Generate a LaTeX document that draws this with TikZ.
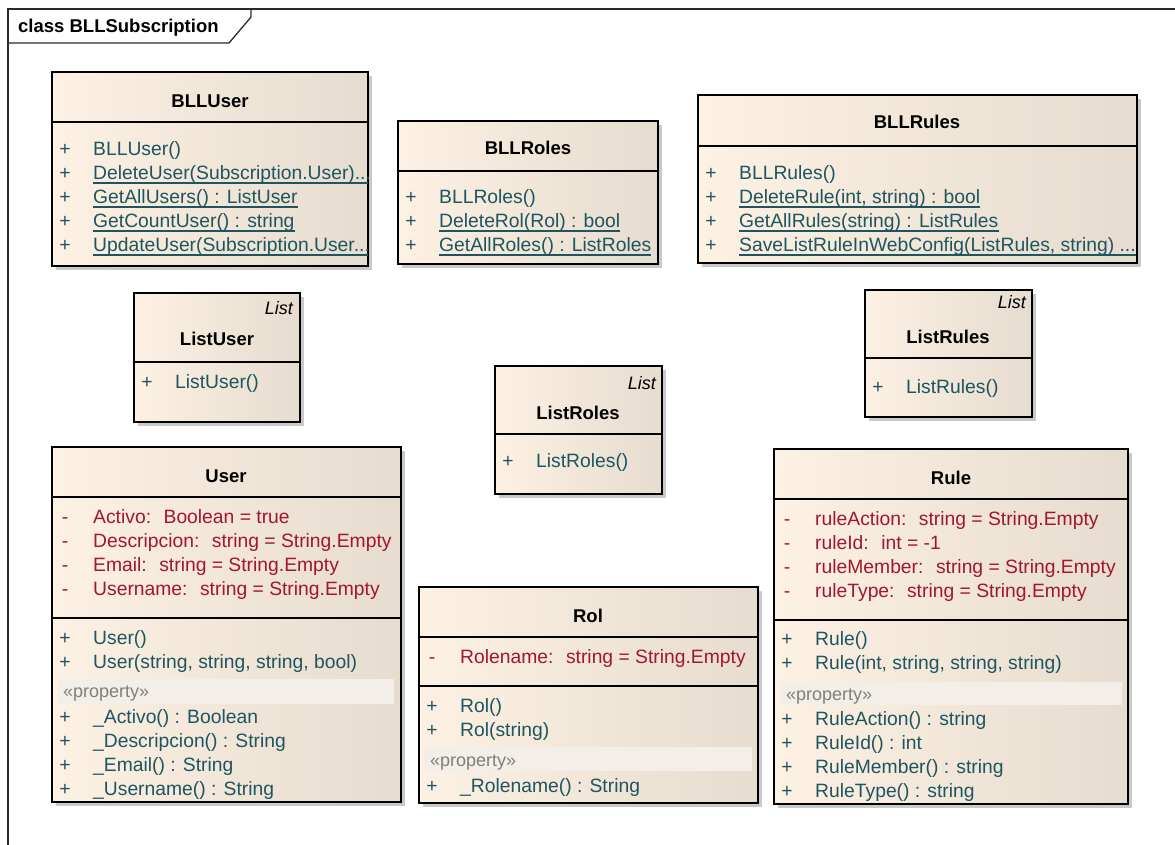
\documentclass[tikz,border=0pt]{standalone}
\usepackage{fontspec}
\setmainfont{Liberation Sans}
\usetikzlibrary{shadows}
\definecolor{opc}{HTML}{1E5560}
\definecolor{atc}{HTML}{A3162B}
\definecolor{bgl}{HTML}{FCF1E2}
\definecolor{bgr}{HTML}{E6DCCF}
\definecolor{propband}{HTML}{F3EEE8}
\definecolor{stereogray}{HTML}{7F7F7F}
\definecolor{framec}{HTML}{2A2A2A}

% class box: name, x1, y1, x2, y2 (pixel-like units, y downward)
\newcommand\clsbox[5]{%
  \node[cls, minimum width={(#4-#2)*1pt}, minimum height={(#5-#3)*1pt}]
    (#1) at ({(#2+#4)/2},{(#3+#5)/2}) {};}
% horizontal compartment divider of a box
\newcommand\divider[2]{\draw[div] (#1.west |- 0,#2) -- (#1.east |- 0,#2);}
% member row: name, box left, baseline, colour, visibility, text
\newcommand\mrow[6]{%
  \node[row, text=#4, anchor=base] (#1s) at ({#2+13},#3) {#5};
  \node[row, text=#4, anchor=base west] (#1) at ({#2+41},#3) {#6};}
% underlined (static) member row
\newcommand\urow[6]{%
  \mrow{#1}{#2}{#3}{#4}{#5}{#6}
  \draw[ulline] ([yshift=-4pt]#1.base west) -- ([yshift=-4pt]#1.base east);}

\begin{document}
\begin{tikzpicture}[x=1pt,y=-1pt,
  cls/.style={draw=black, line width=1.2pt, left color=bgl, right color=bgr,
    inner sep=0pt, drop shadow={shadow xshift=4pt, shadow yshift=-4pt,
    fill=black!35, opacity=0.6}},
  div/.style={draw=black, line width=1.2pt},
  row/.style={inner sep=0pt, font=\fontsize{19.3}{22}\selectfont},
  ttl/.style={inner sep=0pt, anchor=base, font=\bfseries\fontsize{18.5}{22}\selectfont},
  stereo/.style={inner sep=0pt, anchor=base east, font=\itshape\fontsize{18}{20}\selectfont},
  prop/.style={inner sep=0pt, anchor=base west, text=stereogray, font=\fontsize{18}{20}\selectfont},
  band/.style={fill=propband, draw=none},
  ulline/.style={draw=opc, line width=1.1pt},
  frame/.style={draw=framec, line width=1.3pt},
]
\useasboundingbox (0,0) rectangle (1175,844);
\fill[white] (0,0) rectangle (1175,844);

% package frame and its name tab
\draw[frame] (8,850) -- (8,9) -- (1180,9);
\draw[frame] (8,43) -- (229,43) -- (251,17) -- (251,9);
\node[inner sep=0pt, anchor=base west, font=\bfseries\fontsize{18.5}{22}\selectfont]
  (pkgname) at (18,32) {class BLLSubscription};

% ---------- BLLUser ----------
\clsbox{bllUser}{52}{72}{368}{266}
\node[ttl] (bllUserName) at (210,107) {BLLUser};
\divider{bllUser}{122}
\begin{scope}
\clip (52,72) rectangle (368,266);
\mrow{bu1}{52}{155}{opc}{+}{BLLUser()}
\urow{bu2}{52}{179}{opc}{+}{DeleteUser(Subscription.User)...}
\urow{bu3}{52}{203}{opc}{+}{GetAllUsers() : ListUser}
\urow{bu4}{52}{227}{opc}{+}{GetCountUser() : string}
\urow{bu5}{52}{251}{opc}{+}{UpdateUser(Subscription.User...}
\end{scope}

% ---------- BLLRoles ----------
\clsbox{bllRoles}{398}{121}{658}{264}
\node[ttl] (bllRolesName) at (528,154) {BLLRoles};
\divider{bllRoles}{171}
\mrow{br1}{398}{203}{opc}{+}{BLLRoles()}
\urow{br2}{398}{227}{opc}{+}{DeleteRol(Rol) : bool}
\urow{br3}{398}{251}{opc}{+}{GetAllRoles() : ListRoles}

% ---------- BLLRules ----------
\clsbox{bllRules}{698}{95}{1137}{263}
\node[ttl] (bllRulesName) at (917,128) {BLLRules};
\divider{bllRules}{146}
\begin{scope}
\clip (698,95) rectangle (1137,263);
\mrow{bx1}{698}{179}{opc}{+}{BLLRules()}
\urow{bx2}{698}{203}{opc}{+}{DeleteRule(int, string) : bool}
\urow{bx3}{698}{227}{opc}{+}{GetAllRules(string) : ListRules}
\urow{bx4}{698}{251}{opc}{+}{SaveListRuleInWebConfig(ListRules, string) ...}
\end{scope}

% ---------- ListUser ----------
\clsbox{listUser}{134}{293}{300}{422}
\node[stereo] (listUserBase) at (293,314) {List};
\node[ttl] (listUserName) at (217,345) {ListUser};
\divider{listUser}{362}
\mrow{lu1}{134}{388}{opc}{+}{ListUser()}

% ---------- ListRoles ----------
\clsbox{listRoles}{495}{366}{662}{494}
\node[stereo] (listRolesBase) at (656,389) {List};
\node[ttl] (listRolesName) at (578,419) {ListRoles};
\divider{listRoles}{434}
\mrow{lr1}{495}{467}{opc}{+}{ListRoles()}

% ---------- ListRules ----------
\clsbox{listRules}{865}{290}{1032}{417}
\node[stereo] (listRulesBase) at (1026,308) {List};
\node[ttl] (listRulesName) at (948,343) {ListRules};
\divider{listRules}{358}
\mrow{lx1}{865}{393}{opc}{+}{ListRules()}

% ---------- User ----------
\clsbox{user}{52}{447}{401}{802}
\node[ttl] (userName) at (226,482) {User};
\divider{user}{497}
\divider{user}{618}
\mrow{ua1}{52}{523}{atc}{-}{Activo:~ Boolean = true}
\mrow{ua2}{52}{547}{atc}{-}{Descripcion:~ string = String.Empty}
\mrow{ua3}{52}{571}{atc}{-}{Email:~ string = String.Empty}
\mrow{ua4}{52}{595}{atc}{-}{Username:~ string = String.Empty}
\mrow{uo1}{52}{644}{opc}{+}{User()}
\mrow{uo2}{52}{668}{opc}{+}{User(string, string, string, bool)}
\fill[band] (57,679) rectangle (394,704);
\node[prop] (userProp) at (63,697) {«property»};
\mrow{up1}{52}{723}{opc}{+}{\_Activo() : Boolean}
\mrow{up2}{52}{747}{opc}{+}{\_Descripcion() : String}
\mrow{up3}{52}{771}{opc}{+}{\_Email() : String}
\mrow{up4}{52}{795}{opc}{+}{\_Username() : String}

% ---------- Rol ----------
\clsbox{rol}{419}{587}{758}{803}
\node[ttl] (rolName) at (588,622) {Rol};
\divider{rol}{637}
\divider{rol}{686}
\mrow{ra1}{419}{663}{atc}{-}{Rolename:~ string = String.Empty}
\mrow{ro1}{419}{712}{opc}{+}{Rol()}
\mrow{ro2}{419}{736}{opc}{+}{Rol(string)}
\fill[band] (424,747) rectangle (752,771);
\node[prop] (rolProp) at (430,766) {«property»};
\mrow{rp1}{419}{792}{opc}{+}{\_Rolename() : String}

% ---------- Rule ----------
\clsbox{rule}{774}{449}{1128}{804}
\node[ttl] (ruleName) at (951,484) {Rule};
\divider{rule}{499}
\divider{rule}{620}
\mrow{xa1}{774}{525}{atc}{-}{ruleAction:~ string = String.Empty}
\mrow{xa2}{774}{549}{atc}{-}{ruleId:~ int = -1}
\mrow{xa3}{774}{573}{atc}{-}{ruleMember:~ string = String.Empty}
\mrow{xa4}{774}{597}{atc}{-}{ruleType:~ string = String.Empty}
\mrow{xo1}{774}{645}{opc}{+}{Rule()}
\mrow{xo2}{774}{669}{opc}{+}{Rule(int, string, string, string)}
\fill[band] (780,682) rectangle (1122,705);
\node[prop] (ruleProp) at (786,700) {«property»};
\mrow{xp1}{774}{725}{opc}{+}{RuleAction() : string}
\mrow{xp2}{774}{749}{opc}{+}{RuleId() : int}
\mrow{xp3}{774}{773}{opc}{+}{RuleMember() : string}
\mrow{xp4}{774}{797}{opc}{+}{RuleType() : string}
\end{tikzpicture}
\end{document}
